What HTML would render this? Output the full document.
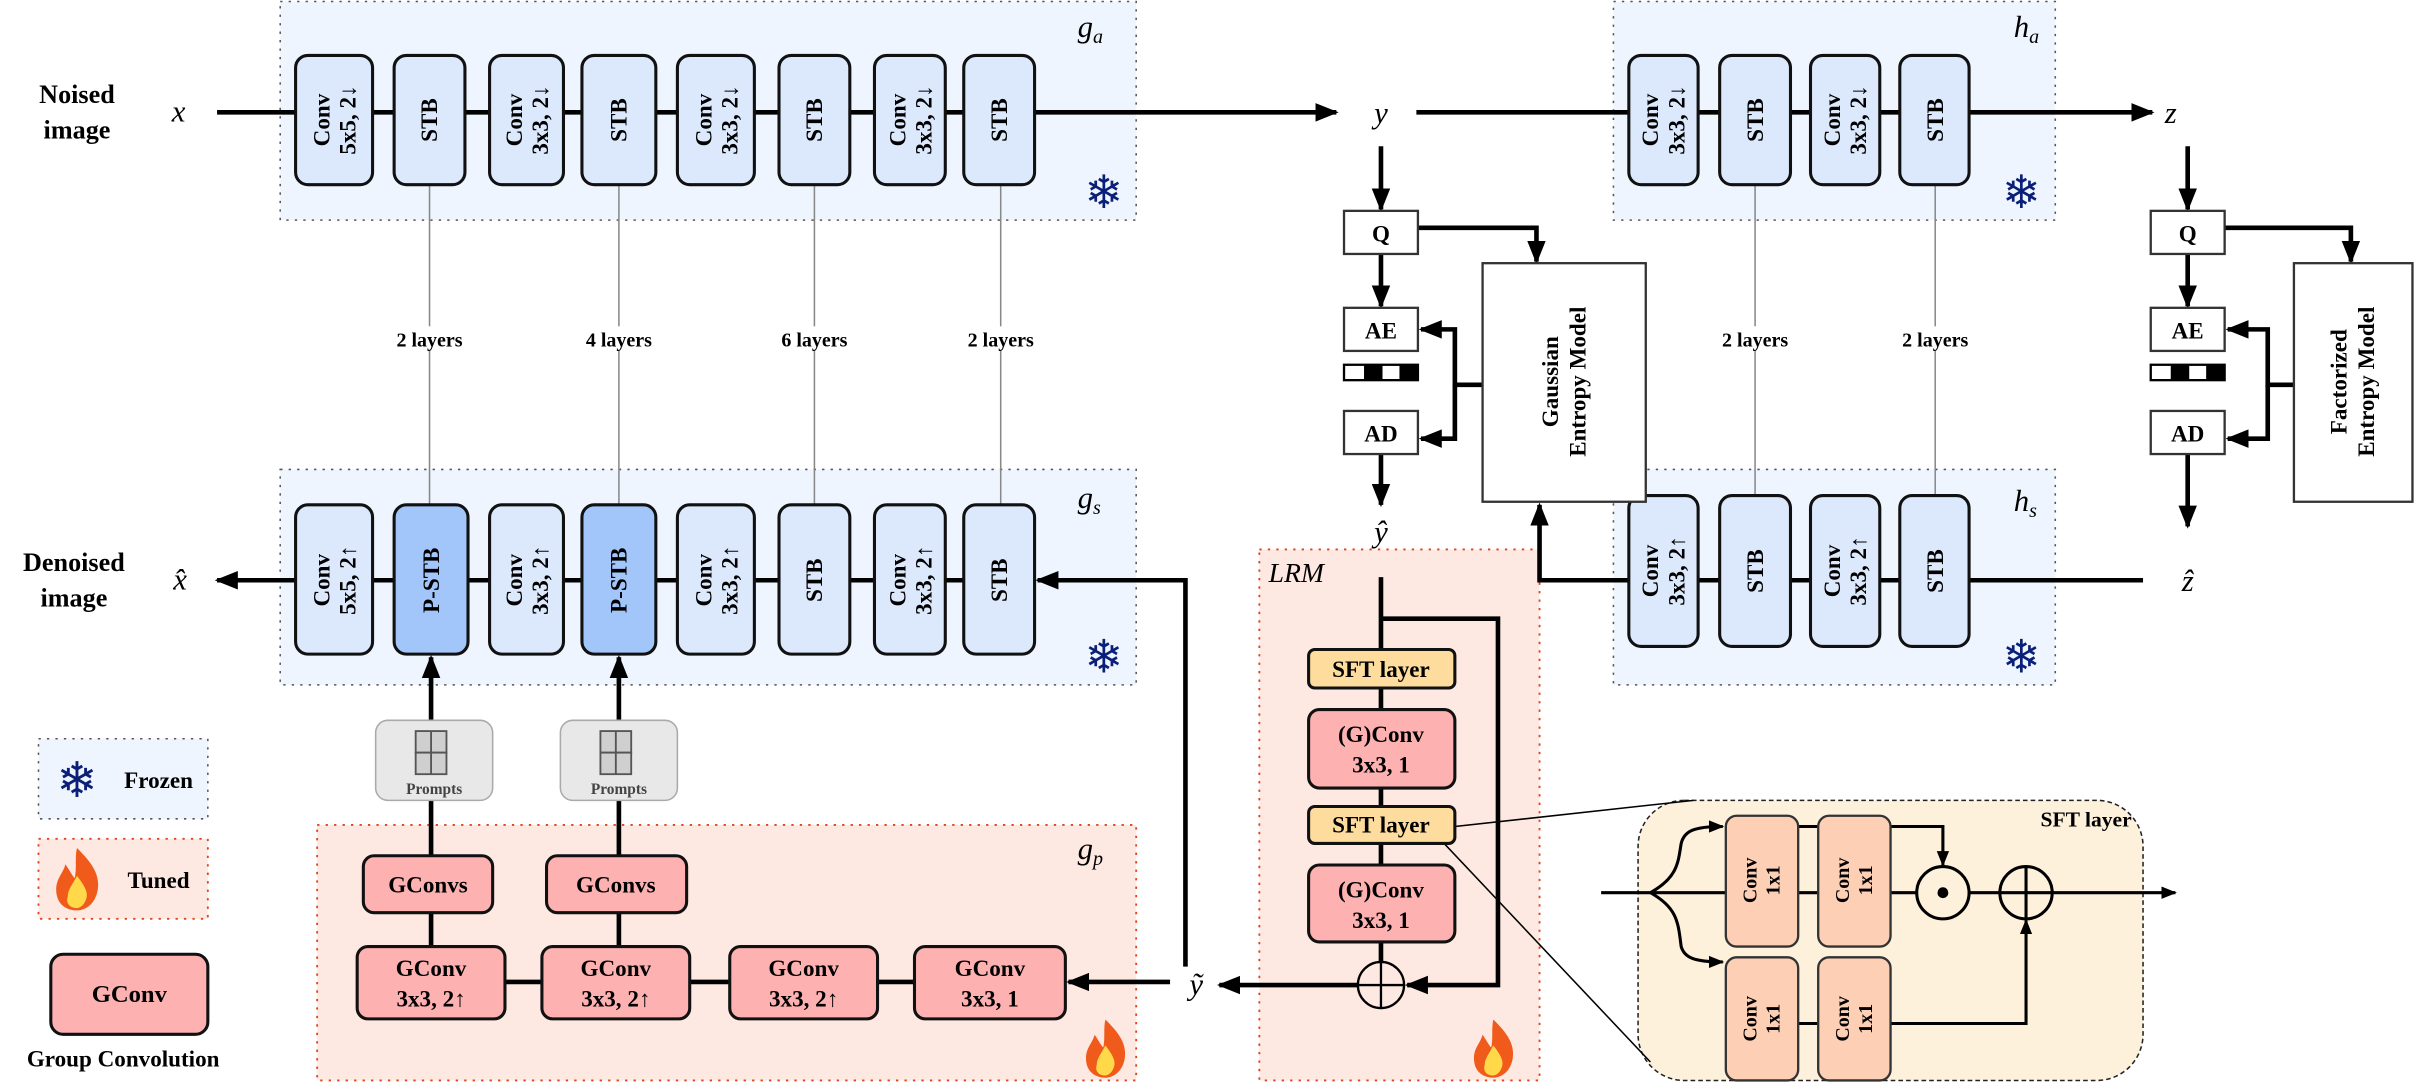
<!DOCTYPE html>
<html><head><meta charset="utf-8"><style>html,body{margin:0;padding:0;background:#fff}svg{display:block}</style></head>
<body>
<svg width="2414" height="1082" viewBox="0 0 1568 703" preserveAspectRatio="none" xmlns="http://www.w3.org/2000/svg" font-family="Liberation Serif, serif" font-weight="bold">
<defs>
<marker id="a" viewBox="0 0 10 10" refX="9" refY="5" markerWidth="5" markerHeight="5" orient="auto-start-reverse"><path d="M0,1 L10,5 L0,9 z" fill="#000"/></marker>
<g id="flame"><path d="M0,-14 C6,-8 10,-3 9,4 C8,10 4,13 0,13 C-5,13 -9,10 -9,4 C-9,-1 -6,-3 -5,-7 C-3,-4 -2,-2 -1,-1 C0,-5 -1,-10 0,-14 z" fill="#f05a1a"/><path d="M0,-2 C3,2 5,5 4,8 C3,11 1,12 0,12 C-3,12 -5,10 -4,7 C-4,4 -2,2 0,-2 z" fill="#ffd94a"/></g>
</defs>
<g stroke="#555" stroke-width="1" stroke-dasharray="1.5,4" fill="#eef5fe">
<rect x="182" y="1" width="556" height="142"/>
<rect x="1048" y="1" width="287" height="142"/>
<rect x="182" y="305" width="556" height="140"/>
<rect x="1048" y="305" width="287" height="140"/>
<rect x="25" y="480" width="110" height="52"/>
</g>
<g stroke="#e0441a" stroke-width="1.2" stroke-dasharray="1.5,4" fill="#fde9e2">
<rect x="206" y="536" width="532" height="166"/>
<rect x="818" y="357" width="182" height="345"/>
<rect x="25" y="545" width="110" height="52"/>
</g>
<rect x="1064" y="520" width="328" height="182" rx="30" fill="#fdf1dc" stroke="#222" stroke-width="1" stroke-dasharray="3,2"/>
<g font-family="Liberation Serif, serif" font-style="italic" font-weight="normal" font-size="20">
<text x="700" y="24">g<tspan font-size="13" dy="4">a</tspan></text>
<text x="1308" y="24">h<tspan font-size="13" dy="4">a</tspan></text>
<text x="700" y="330">g<tspan font-size="13" dy="4">s</tspan></text>
<text x="1308" y="332">h<tspan font-size="13" dy="4">s</tspan></text>
<text x="700" y="558">g<tspan font-size="13" dy="4">p</tspan></text>
<text x="824" y="378" font-size="18">LRM</text>
</g>
<g fill="#0a1f78" font-family="DejaVu Sans, sans-serif" font-size="30" text-anchor="middle">
<text x="717" y="135">❄</text><text x="1313" y="135">❄</text><text x="717" y="437">❄</text><text x="1313" y="437">❄</text><text x="50" y="518" font-size="32">❄</text>
</g>
<use href="#flame" transform="translate(718,682) scale(1.4)"/><use href="#flame" transform="translate(970,682) scale(1.4)"/><use href="#flame" transform="translate(50,572) scale(1.5)"/>
<g stroke="#888" stroke-width="1">
<line x1="279" y1="120" x2="279" y2="328"/><line x1="402" y1="120" x2="402" y2="328"/><line x1="529" y1="120" x2="529" y2="328"/><line x1="650" y1="120" x2="650" y2="328"/>
<line x1="1140" y1="120" x2="1140" y2="322"/><line x1="1257" y1="120" x2="1257" y2="322"/>
</g>
<g font-size="13" text-anchor="middle">
<rect x="250" y="212" width="58" height="16" fill="#fff"/><text x="279" y="225">2 layers</text>
<rect x="373" y="212" width="58" height="16" fill="#fff"/><text x="402" y="225">4 layers</text>
<rect x="500" y="212" width="58" height="16" fill="#fff"/><text x="529" y="225">6 layers</text>
<rect x="621" y="212" width="58" height="16" fill="#fff"/><text x="650" y="225">2 layers</text>
<rect x="1111" y="212" width="58" height="16" fill="#fff"/><text x="1140" y="225">2 layers</text>
<rect x="1228" y="212" width="58" height="16" fill="#fff"/><text x="1257" y="225">2 layers</text>
</g>
<g stroke="#000" stroke-width="3" fill="none">
<line x1="141" y1="73" x2="192" y2="73"/>
<line x1="242" y1="73" x2="626" y2="73"/>
<line x1="672" y1="73" x2="868" y2="73" marker-end="url(#a)"/>
<line x1="920" y1="73" x2="1058" y2="73"/>
<line x1="1103" y1="73" x2="1234" y2="73"/>
<line x1="1279" y1="73" x2="1398" y2="73" marker-end="url(#a)"/>
<line x1="192" y1="377" x2="141" y2="377" marker-end="url(#a)"/>
<line x1="242" y1="377" x2="626" y2="377"/>
<polyline points="770,628 770,377 674,377" marker-end="url(#a)"/>
<line x1="1392" y1="377" x2="1058" y2="377"/>
<polyline points="1060,377 1000,377 1000,328" marker-end="url(#a)"/>
<line x1="897" y1="95" x2="897" y2="136" marker-end="url(#a)"/>
<line x1="897" y1="165" x2="897" y2="199" marker-end="url(#a)"/>
<line x1="897" y1="295" x2="897" y2="328" marker-end="url(#a)"/>
<polyline points="921,148 998,148 998,170" marker-end="url(#a)"/>
<polyline points="963,250 945,250 945,214 923,214" marker-end="url(#a)"/>
<polyline points="945,250 945,285 923,285" marker-end="url(#a)"/>
<line x1="1421" y1="95" x2="1421" y2="136" marker-end="url(#a)"/>
<line x1="1421" y1="165" x2="1421" y2="199" marker-end="url(#a)"/>
<line x1="1421" y1="295" x2="1421" y2="342" marker-end="url(#a)"/>
<polyline points="1445,148 1527,148 1527,170" marker-end="url(#a)"/>
<polyline points="1490,250 1473,250 1473,214 1447,214" marker-end="url(#a)"/>
<polyline points="1473,250 1473,285 1447,285" marker-end="url(#a)"/>
<line x1="280" y1="468" x2="280" y2="427" marker-end="url(#a)"/>
<line x1="402" y1="468" x2="402" y2="427" marker-end="url(#a)"/>
<line x1="280" y1="520" x2="280" y2="556"/><line x1="402" y1="520" x2="402" y2="556"/>
<line x1="280" y1="593" x2="280" y2="615"/><line x1="402" y1="593" x2="402" y2="615"/>
<line x1="328" y1="638" x2="352" y2="638"/><line x1="448" y1="638" x2="474" y2="638"/><line x1="570" y1="638" x2="594" y2="638"/>
<line x1="760" y1="638" x2="694" y2="638" marker-end="url(#a)"/>
<line x1="897" y1="375" x2="897" y2="625"/>
<polyline points="897,402 973,402 973,640 914,640" marker-end="url(#a)"/>
<line x1="882" y1="640" x2="792" y2="640" marker-end="url(#a)"/>
</g>
<circle cx="897" cy="640" r="15" fill="none" stroke="#000" stroke-width="1.5"/>
<line x1="882" y1="640" x2="912" y2="640" stroke="#000" stroke-width="1.5"/>
<line x1="897" y1="625" x2="897" y2="655" stroke="#000" stroke-width="1.5"/>
<g stroke="#000" stroke-width="1"><line x1="945" y1="537" x2="1100" y2="520"/><line x1="938" y1="548" x2="1072" y2="690"/></g>
<g stroke="#111" stroke-width="2" fill="#dce9fc">
<rect x="192" y="36" width="50" height="84" rx="8"/><rect x="256" y="36" width="46" height="84" rx="8"/><rect x="318" y="36" width="48" height="84" rx="8"/><rect x="378" y="36" width="48" height="84" rx="8"/>
<rect x="440" y="36" width="50" height="84" rx="8"/><rect x="506" y="36" width="46" height="84" rx="8"/><rect x="568" y="36" width="46" height="84" rx="8"/><rect x="626" y="36" width="46" height="84" rx="8"/>
<rect x="1058" y="36" width="45" height="84" rx="8"/><rect x="1117" y="36" width="46" height="84" rx="8"/><rect x="1176" y="36" width="45" height="84" rx="8"/><rect x="1234" y="36" width="45" height="84" rx="8"/>
<rect x="192" y="328" width="50" height="97" rx="8"/><rect x="256" y="328" width="48" height="97" rx="8" fill="#a3c6fa"/><rect x="318" y="328" width="48" height="97" rx="8"/><rect x="378" y="328" width="48" height="97" rx="8" fill="#a3c6fa"/>
<rect x="440" y="328" width="50" height="97" rx="8"/><rect x="506" y="328" width="46" height="97" rx="8"/><rect x="568" y="328" width="46" height="97" rx="8"/><rect x="626" y="328" width="46" height="97" rx="8"/>
<rect x="1058" y="322" width="45" height="98" rx="8"/><rect x="1117" y="322" width="46" height="98" rx="8"/><rect x="1176" y="322" width="45" height="98" rx="8"/><rect x="1234" y="322" width="45" height="98" rx="8"/>
</g>
<g font-size="15" text-anchor="middle">
<g transform="translate(217,78) rotate(-90)"><text y="-3">Conv</text><text y="14">5x5, 2↓</text></g>
<g transform="translate(279,78) rotate(-90)"><text y="5">STB</text></g>
<g transform="translate(342,78) rotate(-90)"><text y="-3">Conv</text><text y="14">3x3, 2↓</text></g>
<g transform="translate(402,78) rotate(-90)"><text y="5">STB</text></g>
<g transform="translate(465,78) rotate(-90)"><text y="-3">Conv</text><text y="14">3x3, 2↓</text></g>
<g transform="translate(529,78) rotate(-90)"><text y="5">STB</text></g>
<g transform="translate(591,78) rotate(-90)"><text y="-3">Conv</text><text y="14">3x3, 2↓</text></g>
<g transform="translate(649,78) rotate(-90)"><text y="5">STB</text></g>
<g transform="translate(1080,78) rotate(-90)"><text y="-3">Conv</text><text y="14">3x3, 2↓</text></g>
<g transform="translate(1140,78) rotate(-90)"><text y="5">STB</text></g>
<g transform="translate(1198,78) rotate(-90)"><text y="-3">Conv</text><text y="14">3x3, 2↓</text></g>
<g transform="translate(1257,78) rotate(-90)"><text y="5">STB</text></g>
<g transform="translate(217,377) rotate(-90)"><text y="-3">Conv</text><text y="14">5x5, 2↑</text></g>
<g transform="translate(280,377) rotate(-90)"><text y="5">P-STB</text></g>
<g transform="translate(342,377) rotate(-90)"><text y="-3">Conv</text><text y="14">3x3, 2↑</text></g>
<g transform="translate(402,377) rotate(-90)"><text y="5">P-STB</text></g>
<g transform="translate(465,377) rotate(-90)"><text y="-3">Conv</text><text y="14">3x3, 2↑</text></g>
<g transform="translate(529,377) rotate(-90)"><text y="5">STB</text></g>
<g transform="translate(591,377) rotate(-90)"><text y="-3">Conv</text><text y="14">3x3, 2↑</text></g>
<g transform="translate(649,377) rotate(-90)"><text y="5">STB</text></g>
<g transform="translate(1080,371) rotate(-90)"><text y="-3">Conv</text><text y="14">3x3, 2↑</text></g>
<g transform="translate(1140,371) rotate(-90)"><text y="5">STB</text></g>
<g transform="translate(1198,371) rotate(-90)"><text y="-3">Conv</text><text y="14">3x3, 2↑</text></g>
<g transform="translate(1257,371) rotate(-90)"><text y="5">STB</text></g>
</g>
<g fill="#fff" stroke="#333" stroke-width="1.5">
<rect x="873" y="137" width="48" height="28"/><rect x="873" y="200" width="48" height="28"/><rect x="873" y="267" width="48" height="28"/>
<rect x="1397" y="137" width="48" height="28"/><rect x="1397" y="200" width="48" height="28"/><rect x="1397" y="267" width="48" height="28"/>
<rect x="963" y="171" width="106" height="155"/><rect x="1490" y="171" width="77" height="155"/>
<rect x="873" y="237" width="48" height="10" stroke="#000"/><rect x="1397" y="237" width="48" height="10" stroke="#000"/>
</g>
<g fill="#000"><rect x="886" y="237" width="12" height="10"/><rect x="909" y="237" width="12" height="10"/><rect x="1410" y="237" width="12" height="10"/><rect x="1433" y="237" width="12" height="10"/></g>
<g font-size="15" text-anchor="middle">
<text x="897" y="157">Q</text><text x="897" y="220">AE</text><text x="897" y="287">AD</text>
<text x="1421" y="157">Q</text><text x="1421" y="220">AE</text><text x="1421" y="287">AD</text>
<g transform="translate(1016,248) rotate(-90)"><text y="-4">Gaussian</text><text y="14">Entropy Model</text></g>
<g transform="translate(1528,248) rotate(-90)"><text y="-4">Factorized</text><text y="14">Entropy Model</text></g>
</g>
<g font-family="Liberation Serif, serif" font-style="italic" font-weight="normal" font-size="20" text-anchor="middle">
<text x="116" y="79">x</text><text x="897" y="80">y</text><text x="1410" y="80">z</text>
<text x="117" y="383">x̂</text><text x="897" y="352">ŷ</text><text x="1421" y="384">ẑ</text><text x="777" y="646">ỹ</text>
</g>
<g font-size="17" text-anchor="middle">
<text x="50" y="67">Noised</text><text x="50" y="90">image</text>
<text x="48" y="371">Denoised</text><text x="48" y="394">image</text>
</g>
<g fill="#e8e8e8" stroke="#aaa" stroke-width="1"><rect x="244" y="468" width="76" height="52" rx="8"/><rect x="364" y="468" width="76" height="52" rx="8"/></g>
<g fill="#cfcfcf" stroke="#555" stroke-width="1.2"><rect x="270" y="475" width="20" height="14"/><rect x="270" y="489" width="20" height="14"/><rect x="390" y="475" width="20" height="14"/><rect x="390" y="489" width="20" height="14"/></g>
<g stroke="#555" stroke-width="1.2"><line x1="280" y1="475" x2="280" y2="503"/><line x1="400" y1="475" x2="400" y2="503"/></g>
<g font-size="10" fill="#444" text-anchor="middle"><text x="282" y="516">Prompts</text><text x="402" y="516">Prompts</text></g>
<g fill="#fdb1b1" stroke="#111" stroke-width="2">
<rect x="236" y="556" width="84" height="37" rx="7"/><rect x="355" y="556" width="91" height="37" rx="7"/>
<rect x="232" y="615" width="96" height="47" rx="7"/><rect x="352" y="615" width="96" height="47" rx="7"/><rect x="474" y="615" width="96" height="47" rx="7"/><rect x="594" y="615" width="98" height="47" rx="7"/>
<rect x="850" y="461" width="95" height="51" rx="7"/><rect x="850" y="562" width="95" height="50" rx="7"/>
<rect x="33" y="620" width="102" height="52" rx="8"/>
</g>
<g fill="#fddc9e" stroke="#111" stroke-width="2"><rect x="850" y="422" width="95" height="25" rx="4"/><rect x="850" y="524" width="95" height="24" rx="4"/></g>
<g font-size="15" text-anchor="middle">
<text x="278" y="580">GConvs</text><text x="400" y="580">GConvs</text>
<text x="280" y="634">GConv</text><text x="280" y="654">3x3, 2↑</text>
<text x="400" y="634">GConv</text><text x="400" y="654">3x3, 2↑</text>
<text x="522" y="634">GConv</text><text x="522" y="654">3x3, 2↑</text>
<text x="643" y="634">GConv</text><text x="643" y="654">3x3, 1</text>
<text x="897" y="440">SFT layer</text><text x="897" y="541">SFT layer</text>
<text x="897" y="482">(G)Conv</text><text x="897" y="502">3x3, 1</text>
<text x="897" y="583">(G)Conv</text><text x="897" y="603">3x3, 1</text>
<text x="84" y="651" font-size="16">GConv</text>
<text x="80" y="693" font-size="15">Group Convolution</text>
<text x="103" y="512" font-size="15">Frozen</text><text x="103" y="577" font-size="15">Tuned</text>
<text x="1355" y="537" font-size="14">SFT layer</text>
</g>
<g stroke="#000" stroke-width="2" fill="none">
<line x1="1040" y1="580" x2="1245" y2="580"/><line x1="1279" y1="580" x2="1299" y2="580"/>
<line x1="1333" y1="580" x2="1413" y2="580" marker-end="url(#a)"/>
<path d="M1072,580 C1090,570 1090,560 1092,548 C1094,540 1100,537 1119,537" marker-end="url(#a)"/>
<path d="M1072,580 C1090,590 1090,600 1092,615 C1094,622 1100,625 1119,625" marker-end="url(#a)"/>
<line x1="1168" y1="537" x2="1181" y2="537"/><line x1="1168" y1="665" x2="1181" y2="665"/>
<polyline points="1228,537 1262,537 1262,562" marker-end="url(#a)"/>
<polyline points="1228,665 1316,665 1316,598" marker-end="url(#a)"/>
<circle cx="1262" cy="580" r="17"/><circle cx="1316" cy="580" r="17"/>
<line x1="1316" y1="563" x2="1316" y2="597"/><line x1="1299" y1="580" x2="1333" y2="580"/>
</g>
<circle cx="1262" cy="580" r="3.5" fill="#000"/>
<g fill="#fdcfb5" stroke="#333" stroke-width="1.5">
<rect x="1121" y="530" width="47" height="85" rx="7"/><rect x="1181" y="530" width="47" height="85" rx="7"/>
<rect x="1121" y="622" width="47" height="80" rx="7"/><rect x="1181" y="622" width="47" height="80" rx="7"/>
</g>
<g font-size="13" text-anchor="middle">
<g transform="translate(1144,572) rotate(-90)"><text y="-3">Conv</text><text y="12">1x1</text></g>
<g transform="translate(1204,572) rotate(-90)"><text y="-3">Conv</text><text y="12">1x1</text></g>
<g transform="translate(1144,662) rotate(-90)"><text y="-3">Conv</text><text y="12">1x1</text></g>
<g transform="translate(1204,662) rotate(-90)"><text y="-3">Conv</text><text y="12">1x1</text></g>
</g>
</svg>
</body></html>
